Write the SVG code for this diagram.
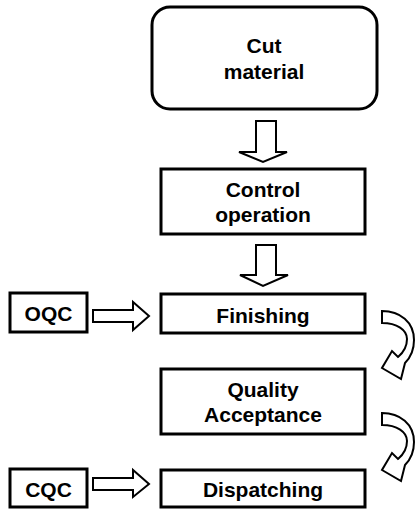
<svg xmlns="http://www.w3.org/2000/svg" width="415" height="509" viewBox="0 0 415 509">
<style>
.box{fill:#fff;stroke:#000;stroke-width:3}
.arr{fill:#fff;stroke:#000;stroke-width:2;stroke-linejoin:miter}
text{font-family:"Liberation Sans",Arial,sans-serif;font-weight:bold;font-size:21px;text-anchor:middle;fill:#000}
</style>
<defs>
<path id="curve" class="arr" d="M382 311 C400 311 414 322 414 340 C414 350 410 358 405 363 L401 379 L382 368 L392 351 L398 357 C404 352 407 346 407 339 C407 330 397 323 382 323 Z"/>
</defs>
<rect width="415" height="509" fill="#fff"/>
<g id="connectors">
<path class="arr" d="M256 121 H276 V152 H287 L263 162 L239 152 H256 Z"/>
<path class="arr" d="M256 245 H276 V275 H288 L263 286 L240 275 H256 Z"/>
<path class="arr" d="M93 310 H133 V302 L149 316 L133 330 V322 H93 Z"/>
<path class="arr" d="M93 478 H133 V470 L149 484 L133 497 V490 H93 Z"/>
<use href="#curve"/>
<use href="#curve" transform="translate(0,102)"/>
</g>
<g id="cut"><rect class="box" x="152" y="7" width="225" height="102" rx="18"/><text x="264" y="53">Cut</text><text x="264" y="79">material</text></g>
<g id="control"><rect class="box" x="161" y="169" width="204" height="65"/><text x="263" y="197">Control</text><text x="263" y="222">operation</text></g>
<g id="finishing"><rect class="box" x="161" y="294" width="204" height="39"/><text x="263" y="323">Finishing</text></g>
<g id="quality"><rect class="box" x="161" y="369" width="204" height="65"/><text x="263" y="397">Quality</text><text x="263" y="422">Acceptance</text></g>
<g id="dispatching"><rect class="box" x="161" y="470" width="204" height="37"/><text x="263" y="497">Dispatching</text></g>
<g id="oqc"><rect class="box" x="10" y="293" width="77" height="39"/><text x="48.5" y="321">OQC</text></g>
<g id="cqc"><rect class="box" x="10" y="469" width="77" height="38"/><text x="48.5" y="497">CQC</text></g>
</svg>
